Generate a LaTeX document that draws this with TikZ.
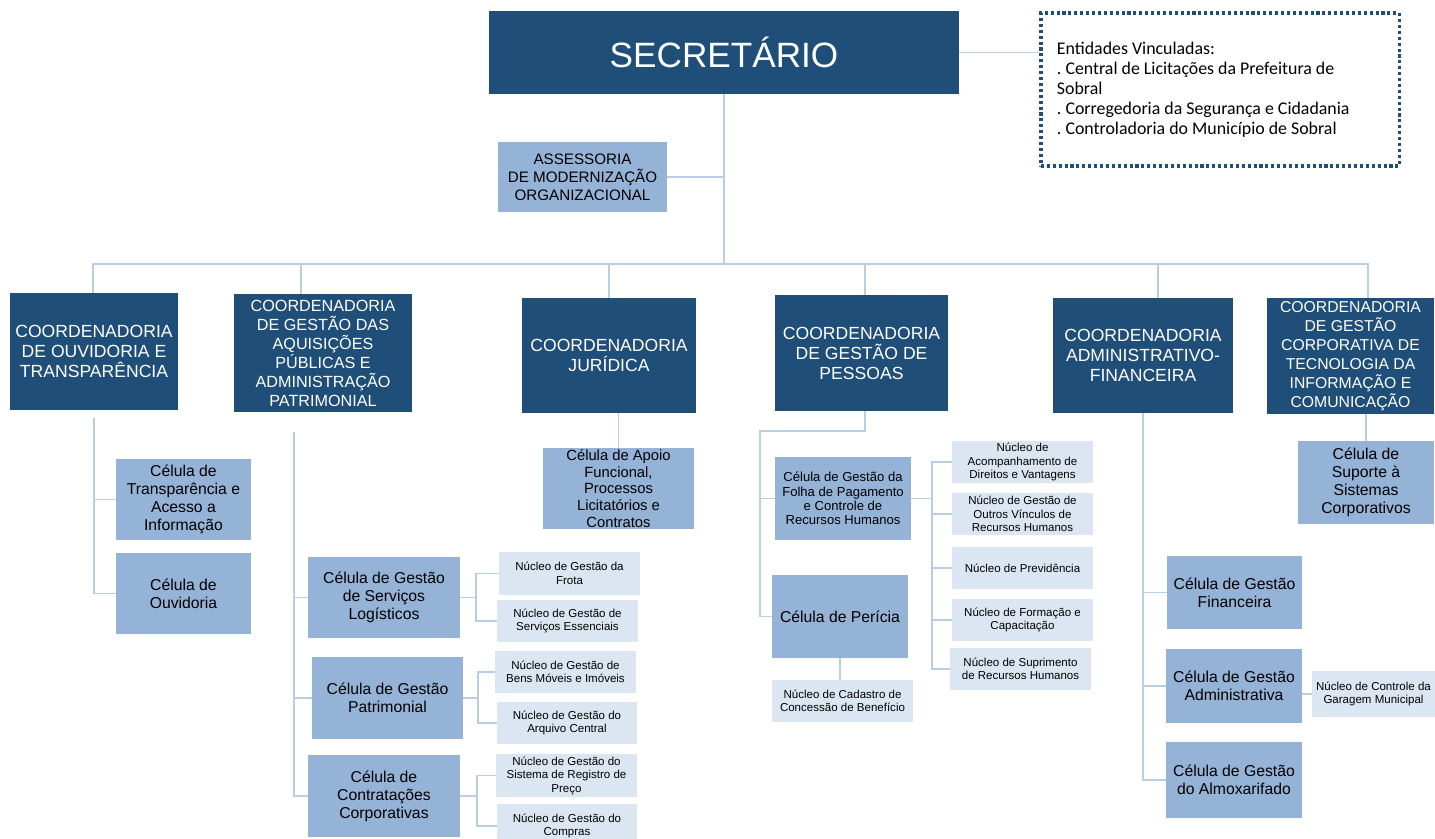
\documentclass[tikz,border=0pt]{standalone}
\usepackage{fontspec}
\setmainfont{Liberation Sans}
\newfontfamily\carlito{Carlito}
\definecolor{darkblue}{RGB}{31,78,121}
\definecolor{midblue}{RGB}{149,179,215}
\definecolor{lightblue}{RGB}{220,230,242}
\definecolor{linecol}{RGB}{185,205,229}

\begin{document}
\begin{tikzpicture}[x=0.025cm, y=-0.025cm,
    wh/.style 2 args={minimum width=#1*0.025cm, minimum height=#2*0.025cm},
    coordbox/.style={fill=darkblue, text=white, inner sep=0pt, outer sep=0pt, align=center, font=\fontsize{12.5}{14.2}\selectfont},
    celbox/.style={fill=midblue, inner sep=0pt, outer sep=0pt, align=center, font=\fontsize{11.2}{12.8}\selectfont},
    nucbox/.style={fill=lightblue, inner sep=0pt, outer sep=0pt, align=center, font=\fontsize{8.2}{9.6}\selectfont},
    link/.style={draw=linecol, line width=1.3pt}]

    \useasboundingbox (0,0) rectangle (1435,838);

    \node[coordbox, wh={470}{83}, font=\fontsize{25}{29}\selectfont] (sec) at (724,52.5) {SECRETÁRIO};
    \node[draw=darkblue, line width=2.2pt, dash pattern=on 2.2pt off 2pt, inner xsep=0.4cm, text width=8.15cm, minimum height=153*0.025cm, align=flush left, font=\carlito\fontsize{12.7}{14.2}\selectfont\frenchspacing] (ent) at (1220,89.5)
        {Entidades Vinculadas:\\. Central de Licitações da Prefeitura de\\Sobral\\. Corregedoria da Segurança e Cidadania\\. Controladoria do Município de Sobral};
    \node[celbox, wh={169}{70}, font=\fontsize{10.8}{12.8}\selectfont] (ass) at (582.5,177) {ASSESSORIA\\DE MODERNIZAÇÃO\\ORGANIZACIONAL};

    \node[coordbox, wh={168}{117}] (co1) at (94,351.5) {COORDENADORIA\\DE OUVIDORIA E\\TRANSPARÊNCIA};
    \node[coordbox, wh={178}{118}, font=\fontsize{11.5}{13.5}\selectfont] (co2) at (323,353) {COORDENADORIA\\DE GESTÃO DAS\\AQUISIÇÕES\\PÚBLICAS E\\ADMINISTRAÇÃO\\PATRIMONIAL};
    \node[coordbox, wh={174}{115}] (co3) at (609,355.5) {COORDENADORIA\\JURÍDICA};
    \node[coordbox, wh={173}{116}] (co4) at (861.5,353) {COORDENADORIA\\DE GESTÃO DE\\PESSOAS};
    \node[coordbox, wh={180}{115}] (co5) at (1143,355.5) {COORDENADORIA\\ADMINISTRATIVO-\\FINANCEIRA};
    \node[coordbox, wh={167}{116}, font=\fontsize{11.2}{13.5}\selectfont] (co6) at (1350.5,356) {COORDENADORIA\\DE GESTÃO\\CORPORATIVA DE\\TECNOLOGIA DA\\INFORMAÇÃO E\\COMUNICAÇÃO};

    \node[celbox, wh={135}{81}] (c11) at (183.5,499.5) {Célula de\\Transparência e\\Acesso a\\Informação};
    \node[celbox, wh={135}{81}] (c12) at (183.5,593.5) {Célula de\\Ouvidoria};

    \node[celbox, wh={152}{81}] (c21) at (384,597.5) {Célula de Gestão\\de Serviços\\Logísticos};
    \node[celbox, wh={151}{82}] (c22) at (387.5,698) {Célula de Gestão\\Patrimonial};
    \node[celbox, wh={152}{82}] (c23) at (384,796) {Célula de\\Contratações\\Corporativas};
    \node[nucbox, wh={141}{43}] (n211) at (569.5,573.5) {Núcleo de Gestão da\\Frota};
    \node[nucbox, wh={141}{42}] (n212) at (567.5,621) {Núcleo de Gestão de\\Serviços Essenciais};
    \node[nucbox, wh={141}{42}] (n221) at (565.5,672) {Núcleo de Gestão de\\Bens Móveis e Imóveis};
    \node[nucbox, wh={140}{42}] (n222) at (567,723) {Núcleo de Gestão do\\Arquivo Central};
    \node[nucbox, wh={141}{43}] (n231) at (566.5,775.5) {Núcleo de Gestão do\\Sistema de Registro de\\Preço};
    \node[nucbox, wh={140}{44}] (n232) at (567,826) {Núcleo de Gestão do\\Compras};

    \node[celbox, wh={151}{81}, font=\fontsize{10.5}{12}\selectfont] (c31) at (618.5,488.5) {Célula de Apoio\\Funcional,\\Processos\\Licitatórios e\\Contratos};

    \node[celbox, wh={136}{83}, font=\fontsize{9.3}{10.3}\selectfont] (c41) at (843,498.5) {Célula de Gestão da\\Folha de Pagamento\\e Controle de\\Recursos Humanos};
    \node[celbox, wh={136}{83}] (c42) at (840,616.5) {Célula de Perícia};
    \node[nucbox, wh={141}{42}] (n421) at (842.5,701) {Núcleo de Cadastro de\\Concessão de Benefício};
    \node[nucbox, wh={141}{42}] (n411) at (1022.5,462) {Núcleo de\\Acompanhamento de\\Direitos e Vantagens};
    \node[nucbox, wh={141}{42}] (n412) at (1022.5,514) {Núcleo de Gestão de\\Outros Vínculos de\\Recursos Humanos};
    \node[nucbox, wh={141}{42}] (n413) at (1022.5,568) {Núcleo de Previdência};
    \node[nucbox, wh={141}{42}] (n414) at (1022.5,620) {Núcleo de Formação e\\Capacitação};
    \node[nucbox, wh={141}{42}] (n415) at (1020.5,669) {Núcleo de Suprimento\\de Recursos Humanos};

    \node[celbox, wh={135}{73}] (c51) at (1234.5,592.5) {Célula de Gestão\\Financeira};
    \node[celbox, wh={136}{74}] (c52) at (1234,686) {Célula de Gestão\\Administrativa};
    \node[celbox, wh={136}{76}] (c53) at (1234,780) {Célula de Gestão\\do Almoxarifado};
    \node[nucbox, wh={123}{46}] (n521) at (1373.5,694) {Núcleo de Controle da\\Garagem Municipal};

    \node[celbox, wh={136}{83}] (c61) at (1366,482.5) {Célula de\\Suporte à\\Sistemas\\Corporativos};

    \coordinate (hub) at (724,264);
    \draw[link] (sec.south) -- (hub);
    \draw[link] (sec.east) -- (sec.east -| ent.west);
    \draw[link] (ass.east) -- (ass.east -| sec.south);
    \foreach \c/\dx in {co1/-1, co2/-22, co3/0, co4/3.5, co5/15, co6/17.5}
        \draw[link] (\c.north) ++(\dx,0) |- (hub);

    \draw[link] (co1.south) ++(0,8) |- (c11.west);
    \draw[link] (co1.south) ++(0,8) |- (c12.west);

    \foreach \c in {c21,c22,c23}
        \draw[link] (co2.south) ++(-29,20) |- (\c.west);
    \draw[link] (c21.east) -- ++(16,0) |- (n211.west);
    \draw[link] (c21.east) -- ++(16,0) |- (n212.west);
    \draw[link] (c22.east) -- ++(15,0) |- (n221.west);
    \draw[link] (c22.east) -- ++(15,0) |- (n222.west);
    \draw[link] (c23.east) -- ++(17,0) |- (n231.west);
    \draw[link] (c23.east) -- ++(17,0) |- (n232.west);

    \draw[link] (c31.north) -- (c31.north |- co3.south);

    \foreach \c in {c41,c42}
        \draw[link] (co4.south) ++(3.5,0) -- ++(0,20) -- ++(-105,0) |- (\c.west);
    \draw[link] (c42.south) -- (c42.south |- n421.north);
    \foreach \n in {n411,n412,n413,n414,n415}
        \draw[link] (c41.east) -- ++(21,0) |- (\n.west);

    \foreach \c in {c51,c52,c53}
        \draw[link] (co5.south) |- (\c.west);
    \draw[link] (n521.west) -- (n521.west -| c52.east);

    \draw[link] (c61.north) -- (c61.north |- co6.south);
\end{tikzpicture}
\end{document}
